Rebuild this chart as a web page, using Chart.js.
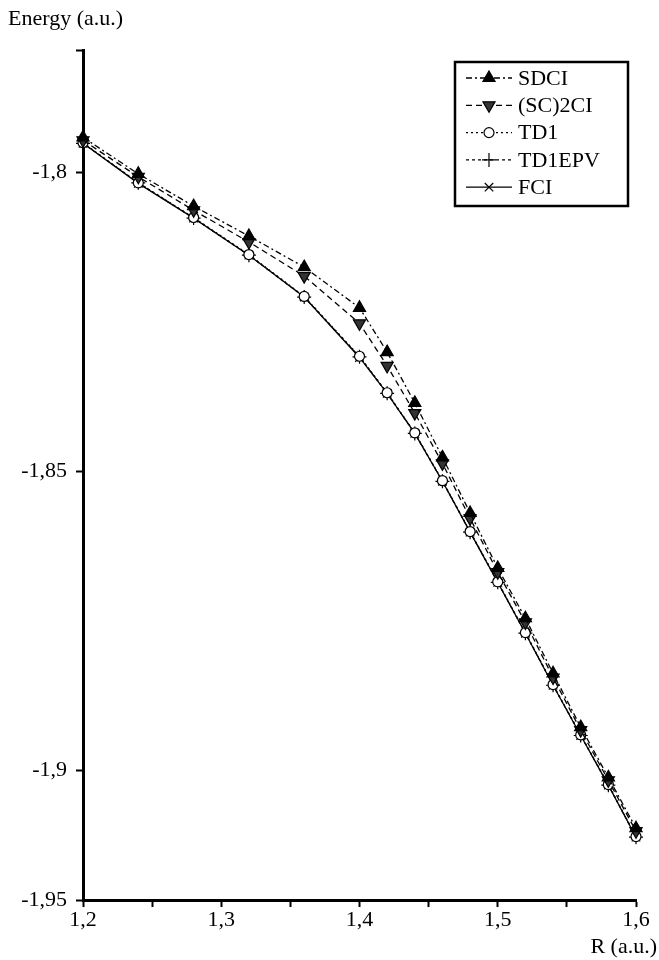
<!DOCTYPE html>
<html lang="en">
<head>
    <meta charset="UTF-8">
    <title>Energy vs R</title>
    <script src="https://cdn.jsdelivr.net/npm/chart.js"></script>
    <style>
        html, body {
            margin: 0;
            padding: 0;
            background: #fff;
        }
        #wrap {
            width: 659px;
            height: 960px;
        }
    </style>
</head>
<body>
<div id="wrap"><canvas id="energyChart" width="659" height="960"></canvas></div>

<script>
    // bond length R (a.u.)
    const R = [1.2, 1.24, 1.28, 1.32, 1.36, 1.40, 1.42, 1.44, 1.46, 1.48, 1.50, 1.52, 1.54, 1.56, 1.58, 1.60];

    // energies (a.u.)
    const sdci   = [-1.7942, -1.8003, -1.8057, -1.8107, -1.8159, -1.8227, -1.8301, -1.8386, -1.8477, -1.8570, -1.8662, -1.8746, -1.8838, -1.8928, -1.9012, -1.9097];
    const sc2ci  = [-1.7947, -1.8008, -1.8064, -1.8117, -1.8174, -1.8253, -1.8324, -1.8403, -1.8487, -1.8579, -1.8669, -1.8753, -1.8845, -1.8933, -1.9017, -1.9102];
    const td1    = [-1.7951, -1.8018, -1.8076, -1.8138, -1.8208, -1.8308, -1.8369, -1.8436, -1.8516, -1.8601, -1.8685, -1.8770, -1.8857, -1.8941, -1.9024, -1.9111];
    const td1epv = [-1.7952, -1.8018, -1.8077, -1.8139, -1.8209, -1.8309, -1.8370, -1.8437, -1.8517, -1.8602, -1.8686, -1.8771, -1.8858, -1.8942, -1.9025, -1.9112];
    const fci    = [-1.7952, -1.8019, -1.8077, -1.8139, -1.8209, -1.8310, -1.8370, -1.8437, -1.8517, -1.8602, -1.8686, -1.8771, -1.8858, -1.8942, -1.9025, -1.9112];

    // y axis as printed: bottom of the axis carries the "-1,95" label
    const Y_MIN = -1.9217;
    const Y_MAX = -1.7796;
    const yTickValues = [Y_MIN, -1.9, -1.85, -1.8, Y_MAX];
    const yTickLabels = ['-1,95', '-1,9', '-1,85', '-1,8', ''];

    const FONT = '"Liberation Serif", "DejaVu Serif", serif';

    function pts(ys) {
        return R.map((r, i) => ({x: r, y: ys[i]}));
    }

    const boxLegend = {
        id: 'boxLegend',
        afterDraw(chart) {
            const ctx = chart.ctx;
            ctx.save();
            ctx.strokeStyle = '#000';
            ctx.lineWidth = 2.5;
            ctx.setLineDash([]);
            ctx.strokeRect(455, 62, 173, 144);

            ctx.font = '22px ' + FONT;
            ctx.textBaseline = 'middle';
            ctx.textAlign = 'left';
            chart.data.datasets.forEach((ds, i) => {
                const y = 78 + i * 27.3;
                ctx.strokeStyle = '#000';
                ctx.lineWidth = 1.3;
                ctx.setLineDash(ds.borderDash || []);
                ctx.beginPath();
                ctx.moveTo(466, y);
                ctx.lineTo(512, y);
                ctx.stroke();
                ctx.setLineDash([]);
                ctx.fillStyle = ds.pointBackgroundColor;
                ctx.lineWidth = ds.pointBorderWidth;
                Chart.helpers.drawPoint(ctx, {
                    pointStyle: ds.pointStyle,
                    rotation: ds.pointRotation || 0,
                    radius: ds.pointRadius,
                    borderWidth: ds.pointBorderWidth
                }, 489, y);
                ctx.fillStyle = '#000';
                ctx.fillText(ds.label, 518, y + 1);
            });

            // axis titles
            ctx.font = '22px ' + FONT;
            ctx.fillStyle = '#000';
            ctx.textAlign = 'left';
            ctx.fillText('Energy (a.u.)', 8, 19);
            ctx.textAlign = 'right';
            ctx.fillText('R (a.u.)', 657, 947);
            ctx.restore();
        }
    };

    function makeSet(label, ys, dash, style, fill, radius, rot) {
        return {
            label: label,
            data: pts(ys),
            borderColor: '#000',
            borderWidth: 1.3,
            borderDash: dash,
            pointStyle: style,
            pointRotation: rot || 0,
            pointRadius: radius,
            pointBackgroundColor: fill,
            pointBorderColor: '#000',
            pointBorderWidth: 1.2,
            tension: 0,
            fill: false,
            clip: false
        };
    }

    new Chart(document.getElementById('energyChart'), {
        type: 'line',
        data: {
            datasets: [
                makeSet('SDCI', sdci, [6, 3, 2, 3], 'triangle', '#000', 7),
                makeSet('(SC)2CI', sc2ci, [6, 4], 'triangle', '#333', 7, 180),
                makeSet('TD1', td1, [2, 3], 'circle', '#fff', 5),
                makeSet('TD1EPV', td1epv, [3, 3], 'cross', '#fff', 7),
                makeSet('FCI', fci, [], 'crossRot', '#fff', 6)
            ]
        },
        options: {
            responsive: false,
            animation: false,
            layout: {
                padding: {top: 50, left: 6, right: 23, bottom: 0}
            },
            plugins: {
                legend: {display: false},
                tooltip: {enabled: false}
            },
            scales: {
                x: {
                    type: 'linear',
                    min: 1.2,
                    max: 1.6,
                    border: {display: true, color: '#000', width: 3},
                    grid: {
                        display: true,
                        drawOnChartArea: false,
                        drawTicks: true,
                        tickLength: 7,
                        tickColor: '#000',
                        tickWidth: 2
                    },
                    ticks: {
                        stepSize: 0.05,
                        autoSkip: false,
                        maxRotation: 0,
                        padding: 0,
                        color: '#000',
                        font: {family: FONT, size: 22},
                        callback: v => {
                            const t = v * 10;
                            if (Math.abs(t - Math.round(t)) > 1e-6) return '';
                            return v.toFixed(1).replace('.', ',');
                        }
                    },
                    afterFit: s => { s.height = 60; }
                },
                y: {
                    type: 'linear',
                    min: Y_MIN,
                    max: Y_MAX,
                    border: {display: true, color: '#000', width: 3},
                    grid: {
                        display: true,
                        drawOnChartArea: false,
                        drawTicks: true,
                        tickLength: 7,
                        tickColor: '#000',
                        tickWidth: 2
                    },
                    afterBuildTicks: s => {
                        s.ticks = yTickValues.map(v => ({value: v}));
                    },
                    ticks: {
                        autoSkip: false,
                        padding: 9,
                        color: '#000',
                        font: {family: FONT, size: 22},
                        callback: (v, i) => yTickLabels[i]
                    },
                    afterFit: s => { s.width = 77; }
                }
            }
        },
        plugins: [boxLegend]
    });
</script>
</body>
</html>
